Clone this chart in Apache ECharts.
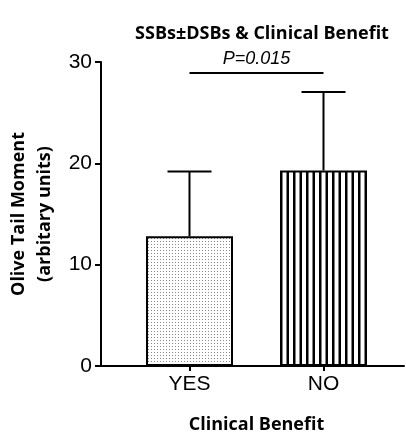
<!DOCTYPE html>
<html><head><meta charset="utf-8">
<script src="https://cdn.jsdelivr.net/npm/echarts@6/dist/echarts.min.js"></script>
<style>html,body{margin:0;padding:0;background:#fff}#c{width:406px;height:434px}</style>
</head><body><div id="c"></div>
<script>
var categories = ['YES', 'NO'];
var means = [12.8, 19.3];
var errors = [6.4, 7.75];
var yTicks = [0, 10, 20, 30];
var pLabel = 'P=0.015';
var pLevel = 28.9;

function dotPattern() {
  var c = document.createElement('canvas'); c.width = 3; c.height = 3;
  var g = c.getContext('2d'); g.fillStyle = '#fff'; g.fillRect(0,0,3,3);
  g.fillStyle = '#8a8a8a'; g.fillRect(1,1,1,1);
  return c;
}
function stripePattern() {
  var c = document.createElement('canvas'); c.width = 13; c.height = 4;
  var g = c.getContext('2d'); g.fillStyle = '#fff'; g.fillRect(0,0,13,4);
  g.fillStyle = '#000'; g.fillRect(0.5,0,2.5,4); g.fillRect(7,0,2.5,4);
  return c;
}
var fills = [{image: dotPattern(), repeat: 'repeat'}, {image: stripePattern(), repeat: 'repeat'}];

var chart = echarts.init(document.getElementById('c'), null, {renderer: 'canvas'});
var font = 'Liberation Sans';
var boldFont = 'Open Sans';
chart.setOption({
  animation: false,
  backgroundColor: '#fff',
  title: {
    text: 'SSBs\u00b1DSBs & Clinical Benefit', left: 257, top: 20, textAlign: 'center',
    textStyle: {fontFamily: boldFont, fontWeight: 'bold', fontSize: 18, color: '#000'}
  },
  grid: [
    {left: 101, right: 2, top: 62, bottom: 68, outerBoundsMode: 'none', containLabel: false},
    {left: 122.5, width: 268, top: 62, bottom: 68, outerBoundsMode: 'none', containLabel: false}
  ],
  xAxis: [
    {gridIndex: 0, type: 'value', min: 0, max: 1, splitLine: {show: false},
     axisLine: {show: true, onZero: false, lineStyle: {color: '#000', width: 2}},
     axisTick: {show: false}, axisLabel: {show: false}},
    {gridIndex: 1, type: 'category', data: categories,
     axisLine: {show: false}, axisTick: {show: true, alignWithLabel: true, length: 5, lineStyle: {color: '#000', width: 2}},
     axisLabel: {color: '#000', fontFamily: font, fontSize: 21, margin: 8},
     name: 'Clinical Benefit', nameLocation: 'middle', nameGap: 50,
     nameTextStyle: {fontFamily: boldFont, fontWeight: 'bold', fontSize: 18, color: '#000'}}
  ],
  yAxis: [
    {gridIndex: 0, type: 'value', min: yTicks[0], max: yTicks[yTicks.length-1], interval: 10,
     splitLine: {show: false},
     axisLine: {show: true, lineStyle: {color: '#000', width: 2}},
     axisTick: {show: true, length: 6, lineStyle: {color: '#000', width: 2}},
     axisLabel: {color: '#000', fontFamily: font, fontSize: 21, margin: 9},
     name: 'Olive Tail Moment\n(arbitary units)', nameLocation: 'middle', nameRotate: 90, nameGap: 36,
     nameTextStyle: {fontFamily: boldFont, fontWeight: 'bold', fontSize: 18, color: '#000', lineHeight: 26}},
    {gridIndex: 1, type: 'value', min: 0, max: 30, show: false}
  ],
  series: [
    {type: 'bar', xAxisIndex: 1, yAxisIndex: 1, barWidth: 87,
     data: means.map(function (v, i) {
       return {value: v, itemStyle: {color: fills[i], borderColor: '#000', borderWidth: 2}};
     }),
     markLine: {
       silent: true, symbol: 'none',
       lineStyle: {color: '#000', width: 2, type: 'solid'},
       label: {show: true, position: 'middle', formatter: pLabel, fontFamily: font, fontStyle: 'italic', fontSize: 18, color: '#000', distance: 5},
       data: [[{coord: [categories[0], pLevel]}, {coord: [categories[1], pLevel]}]]
     }},
    {type: 'custom', xAxisIndex: 1, yAxisIndex: 1,
     data: means.map(function (v, i) { return [i, v, v + errors[i]]; }),
     renderItem: function (params, api) {
       var base = api.coord([api.value(0), api.value(1)]);
       var top = api.coord([api.value(0), api.value(2)]);
       var hw = 22;
       return {type: 'group', children: [
         {type: 'line', shape: {x1: base[0], y1: base[1], x2: top[0], y2: top[1]}, style: {stroke: '#000', lineWidth: 2}},
         {type: 'line', shape: {x1: top[0] - hw, y1: top[1], x2: top[0] + hw, y2: top[1]}, style: {stroke: '#000', lineWidth: 2}}
       ]};
     }, z: 1}
  ]
});
</script></body></html>
